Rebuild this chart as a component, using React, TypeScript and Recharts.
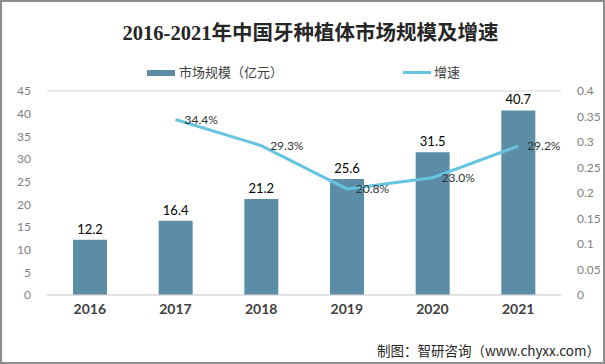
import React from 'react';
import { ComposedChart, Bar, Line, XAxis, YAxis, CartesianGrid, LabelList } from 'recharts';

const years = ['2016', '2017', '2018', '2019', '2020', '2021'];
const marketSize = [12.2, 16.4, 21.2, 25.6, 31.5, 40.7];
const growth = [null, 0.344, 0.293, 0.208, 0.23, 0.292];
const leftTicks = [0, 5, 10, 15, 20, 25, 30, 35, 40, 45];
const rightTicks = [0, 0.05, 0.1, 0.15, 0.2, 0.25, 0.3, 0.35, 0.4];

const BAR_COLOR = '#5b8ea6';
const LINE_COLOR = '#66c3e2';
const FONT = '"Microsoft YaHei", "Noto Sans CJK SC", "Noto Sans", sans-serif';
const NUM_FONT = 'Lato, "Noto Sans", sans-serif';

const data = years.map((y, i) => ({ year: y, size: marketSize[i], rate: growth[i] }));

const App = () => {
  return (
    <div style={{ position: 'fixed', top: 0, left: 0, width: 605, height: 364, background: '#fff', overflow: 'hidden' }}>
      <ComposedChart width={605} height={364} data={data} margin={{ top: 91, right: 0, bottom: 39, left: 0 }}>
        <CartesianGrid vertical={false} stroke="#d9d9d9" />
        <XAxis
          dataKey="year"
          height={30}
          axisLine={{ stroke: '#d9d9d9' }}
          tickLine={false}
          tick={{ fill: '#404040', fontSize: 14, fontWeight: 'bold', fontFamily: NUM_FONT }}
          tickMargin={3}
        />
        <YAxis
          yAxisId="left"
          width={47}
          domain={[0, 45]}
          ticks={leftTicks}
          axisLine={false}
          tickLine={false}
          tickMargin={10}
          tick={{ fill: '#7f7f7f', fontSize: 12, fontFamily: NUM_FONT }}
        />
        <YAxis
          yAxisId="right"
          orientation="right"
          width={44}
          domain={[0, 0.4]}
          ticks={rightTicks}
          axisLine={false}
          tickLine={false}
          tickMargin={10}
          tick={{ fill: '#7f7f7f', fontSize: 12, fontFamily: NUM_FONT }}
        />
        <Bar yAxisId="left" dataKey="size" fill={BAR_COLOR} barSize={34} isAnimationActive={false}>
          <LabelList dataKey="size" position="top" offset={6} fill="#000" fontSize={13} fontFamily={NUM_FONT} />
        </Bar>
        <Line
          yAxisId="right"
          dataKey="rate"
          stroke={LINE_COLOR}
          strokeWidth={3}
          dot={false}
          type="linear"
          connectNulls={false}
          isAnimationActive={false}
        >
          <LabelList
            dataKey="rate"
            position="right"
            offset={9}
            fill="#333"
            fontSize={12}
            fontFamily={NUM_FONT}
            formatter={(v: any) => (v == null ? '' : `${(v * 100).toFixed(1)}%`)}
          />
        </Line>
      </ComposedChart>
      <div style={{ position: 'absolute', top: 0, left: 0, width: 605, height: 90, fontFamily: FONT, fontSize: 13, color: '#404040' }}>
        <div
          style={{
            position: 'absolute',
            top: 16,
            left: 8,
            width: 605,
            textAlign: 'center',
            fontFamily: '"Liberation Serif", "Noto Sans CJK SC", serif',
            fontWeight: 'bold',
            fontSize: 20.5,
            color: '#262626',
          }}
        >
          2016-2021年中国牙种植体市场规模及增速
        </div>
        <div style={{ position: 'absolute', left: 147, top: 70, width: 28, height: 6, background: BAR_COLOR }} />
        <span style={{ position: 'absolute', left: 179, top: 62 }}>市场规模（亿元）</span>
        <div style={{ position: 'absolute', left: 403, top: 71, width: 28, height: 3, background: LINE_COLOR }} />
        <span style={{ position: 'absolute', left: 434, top: 62 }}>增速</span>
      </div>
      <div
        style={{
          position: 'absolute',
          top: 340,
          right: 5,
          fontFamily: FONT,
          fontSize: 13.5,
          color: '#262626',
        }}
      >
        制图：智研咨询（www.chyxx.com）
      </div>
      <div
        style={{
          position: 'absolute',
          top: 0,
          left: 0,
          width: 605,
          height: 364,
          boxSizing: 'border-box',
          border: '2px solid #8c8c8c',
          pointerEvents: 'none',
        }}
      />
    </div>
  );
};

export default App;
